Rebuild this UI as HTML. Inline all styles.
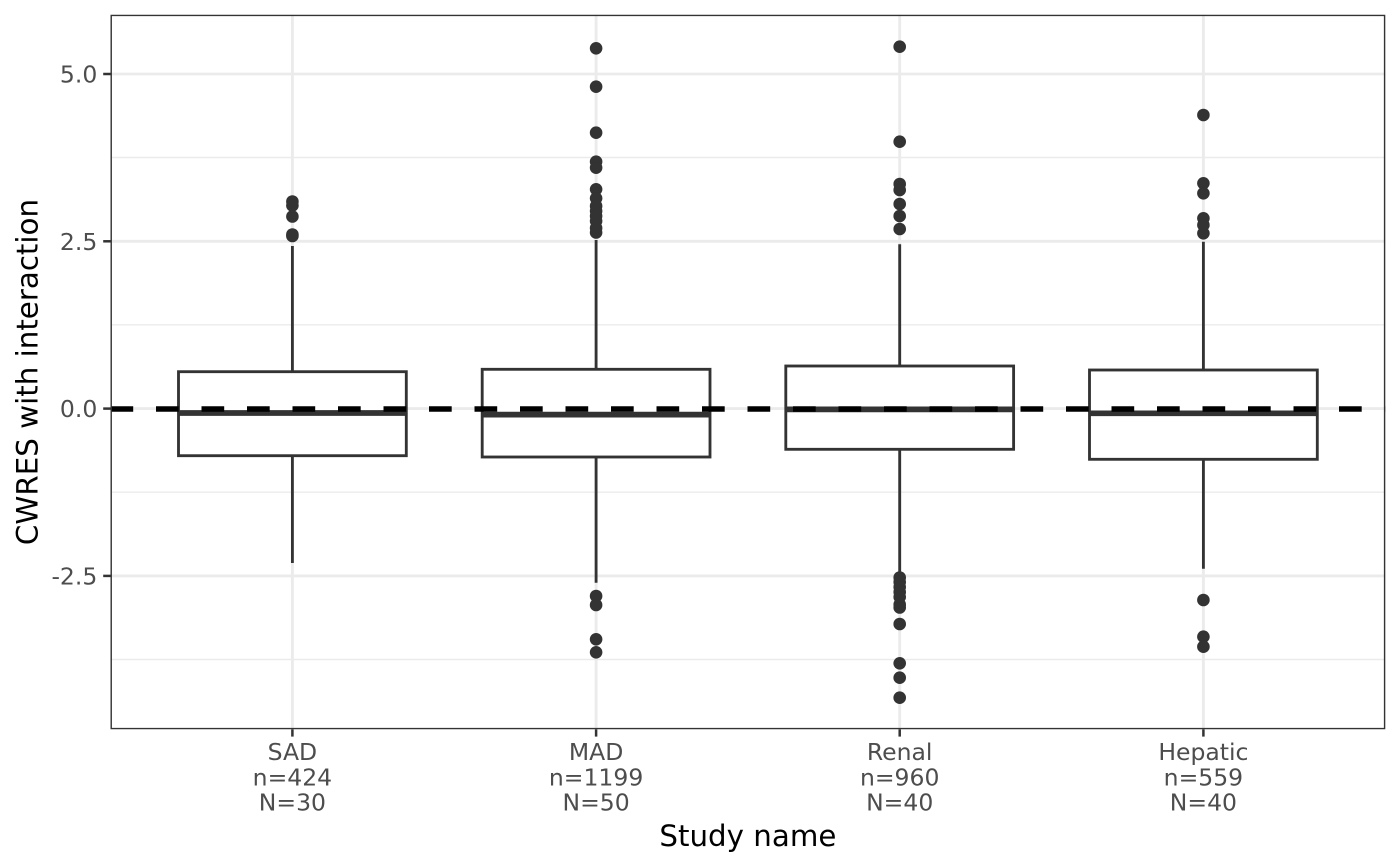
<!DOCTYPE html>
<html>
<head>
<meta charset="utf-8">
<style>
html,body{margin:0;padding:0;background:#fff;}
svg{display:block;}
text{font-family:"DejaVu Sans","Liberation Sans",sans-serif;}
</style>
</head>
<body>
<svg width="1400" height="866" viewBox="0 0 1400 866" xmlns="http://www.w3.org/2000/svg">
<rect x="0" y="0" width="1400" height="866" fill="#fff"/>
<defs><clipPath id="pc"><rect x="110.5" y="14.7" width="1274.8" height="714.6"/></clipPath></defs>
<g clip-path="url(#pc)">
<!-- minor grid -->
<g stroke="#EBEBEB" stroke-width="1.4">
<line x1="110.5" x2="1385.3" y1="157.5" y2="157.5"/>
<line x1="110.5" x2="1385.3" y1="324.8" y2="324.8"/>
<line x1="110.5" x2="1385.3" y1="492.2" y2="492.2"/>
<line x1="110.5" x2="1385.3" y1="659.5" y2="659.5"/>
</g>
<!-- major grid -->
<g stroke="#EBEBEB" stroke-width="2.85">
<line x1="110.5" x2="1385.3" y1="74" y2="74"/>
<line x1="110.5" x2="1385.3" y1="241.3" y2="241.3"/>
<line x1="110.5" x2="1385.3" y1="408.6" y2="408.6"/>
<line x1="110.5" x2="1385.3" y1="575.9" y2="575.9"/>
<line y1="14.7" y2="729.3" x1="292.4" x2="292.4"/>
<line y1="14.7" y2="729.3" x1="596.1" x2="596.1"/>
<line y1="14.7" y2="729.3" x1="899.7" x2="899.7"/>
<line y1="14.7" y2="729.3" x1="1203.4" x2="1203.4"/>
</g>

<!-- boxplots -->
<g stroke="#333333" stroke-width="2.85" fill="#fff">
<!-- SAD -->
<line x1="292.4" x2="292.4" y1="246" y2="371.7"/>
<line x1="292.4" x2="292.4" y1="455.7" y2="563"/>
<rect x="178.5" y="371.7" width="227.8" height="84"/>
<line x1="178.5" x2="406.3" y1="413" y2="413" stroke-width="5.7"/>
<!-- MAD -->
<line x1="596.1" x2="596.1" y1="240" y2="369.3"/>
<line x1="596.1" x2="596.1" y1="457" y2="582.7"/>
<rect x="482.2" y="369.3" width="227.8" height="87.7"/>
<line x1="482.2" x2="710" y1="414.6" y2="414.6" stroke-width="5.7"/>
<!-- Renal -->
<line x1="899.7" x2="899.7" y1="244.3" y2="366"/>
<line x1="899.7" x2="899.7" y1="449.3" y2="573"/>
<rect x="785.8" y="366" width="227.8" height="83.3"/>
<line x1="785.8" x2="1013.6" y1="409.4" y2="409.4" stroke-width="5.7"/>
<!-- Hepatic -->
<line x1="1203.4" x2="1203.4" y1="241.7" y2="370"/>
<line x1="1203.4" x2="1203.4" y1="459.3" y2="568.7"/>
<rect x="1089.5" y="370" width="227.8" height="89.3"/>
<line x1="1089.5" x2="1317.3" y1="413.3" y2="413.3" stroke-width="5.7"/>
</g>

<!-- outliers -->
<g fill="#333333">
<!-- SAD -->
<circle cx="292.4" cy="201.5" r="6.3"/>
<circle cx="292.4" cy="205.5" r="6.3"/>
<circle cx="292.4" cy="216.5" r="6.3"/>
<circle cx="292.4" cy="234.5" r="6.3"/>
<circle cx="292.4" cy="236" r="6.3"/>
<!-- MAD -->
<circle cx="596.1" cy="48.3" r="6.3"/>
<circle cx="596.1" cy="86.7" r="6.3"/>
<circle cx="596.1" cy="132.7" r="6.3"/>
<circle cx="596.1" cy="161.7" r="6.3"/>
<circle cx="596.1" cy="167.7" r="6.3"/>
<circle cx="596.1" cy="189.3" r="6.3"/>
<circle cx="596.1" cy="198.3" r="6.3"/>
<circle cx="596.1" cy="206" r="6.3"/>
<circle cx="596.1" cy="211" r="6.3"/>
<circle cx="596.1" cy="216" r="6.3"/>
<circle cx="596.1" cy="221" r="6.3"/>
<circle cx="596.1" cy="228" r="6.3"/>
<circle cx="596.1" cy="232.5" r="6.3"/>
<circle cx="596.1" cy="596" r="6.3"/>
<circle cx="596.1" cy="605" r="6.3"/>
<circle cx="596.1" cy="639.3" r="6.3"/>
<circle cx="596.1" cy="652.3" r="6.3"/>
<!-- Renal -->
<circle cx="899.7" cy="46.7" r="6.3"/>
<circle cx="899.7" cy="141.7" r="6.3"/>
<circle cx="899.7" cy="184" r="6.3"/>
<circle cx="899.7" cy="190" r="6.3"/>
<circle cx="899.7" cy="204" r="6.3"/>
<circle cx="899.7" cy="216" r="6.3"/>
<circle cx="899.7" cy="229" r="6.3"/>
<circle cx="899.7" cy="577.5" r="6.3"/>
<circle cx="899.7" cy="582" r="6.3"/>
<circle cx="899.7" cy="587" r="6.3"/>
<circle cx="899.7" cy="592" r="6.3"/>
<circle cx="899.7" cy="597" r="6.3"/>
<circle cx="899.7" cy="604.5" r="6.3"/>
<circle cx="899.7" cy="607.5" r="6.3"/>
<circle cx="899.7" cy="624" r="6.3"/>
<circle cx="899.7" cy="663.3" r="6.3"/>
<circle cx="899.7" cy="677.7" r="6.3"/>
<circle cx="899.7" cy="697.7" r="6.3"/>
<!-- Hepatic -->
<circle cx="1203.4" cy="115" r="6.3"/>
<circle cx="1203.4" cy="183.3" r="6.3"/>
<circle cx="1203.4" cy="193.3" r="6.3"/>
<circle cx="1203.4" cy="218.3" r="6.3"/>
<circle cx="1203.4" cy="225" r="6.3"/>
<circle cx="1203.4" cy="233.3" r="6.3"/>
<circle cx="1203.4" cy="600" r="6.3"/>
<circle cx="1203.4" cy="636.7" r="6.3"/>
<circle cx="1203.4" cy="646.7" r="6.3"/>
</g>

<!-- dashed zero line -->
<line x1="110.5" x2="1385.3" y1="409" y2="409" stroke="#000" stroke-width="5.4" stroke-dasharray="22.7 22.8"/>

<!-- panel border -->
<rect x="110.5" y="14.7" width="1274.8" height="714.6" fill="none" stroke="#333333" stroke-width="2.85"/>
</g>

<!-- y ticks -->
<g stroke="#333333" stroke-width="2.5">
<line x1="103.2" x2="110.5" y1="74" y2="74"/>
<line x1="103.2" x2="110.5" y1="241.3" y2="241.3"/>
<line x1="103.2" x2="110.5" y1="408.6" y2="408.6"/>
<line x1="103.2" x2="110.5" y1="575.9" y2="575.9"/>
<line y1="729.3" y2="736.6" x1="292.4" x2="292.4"/>
<line y1="729.3" y2="736.6" x1="596.1" x2="596.1"/>
<line y1="729.3" y2="736.6" x1="899.7" x2="899.7"/>
<line y1="729.3" y2="736.6" x1="1203.4" x2="1203.4"/>
</g>
<g fill="#4D4D4D" font-size="23.5" text-anchor="end">
<text x="97.3" y="82.6">5.0</text>
<text x="97.3" y="249.9">2.5</text>
<text x="97.3" y="417.2">0.0</text>
<text x="97.3" y="584.5">-2.5</text>
</g>
<g fill="#4D4D4D" font-size="23.5" text-anchor="middle">
<text x="292.4" y="760">SAD</text>
<text x="292.4" y="785.3">n=424</text>
<text x="292.4" y="810.6">N=30</text>
<text x="596.1" y="760">MAD</text>
<text x="596.1" y="785.3">n=1199</text>
<text x="596.1" y="810.6">N=50</text>
<text x="899.7" y="760">Renal</text>
<text x="899.7" y="785.3">n=960</text>
<text x="899.7" y="810.6">N=40</text>
<text x="1203.4" y="760">Hepatic</text>
<text x="1203.4" y="785.3">n=559</text>
<text x="1203.4" y="810.6">N=40</text>
</g>
<text x="747.9" y="846" font-size="29.3" text-anchor="middle" fill="#000">Study name</text>
<text transform="translate(37.5,372) rotate(-90)" font-size="29.3" text-anchor="middle" fill="#000">CWRES with interaction</text>
</svg>
</body>
</html>
